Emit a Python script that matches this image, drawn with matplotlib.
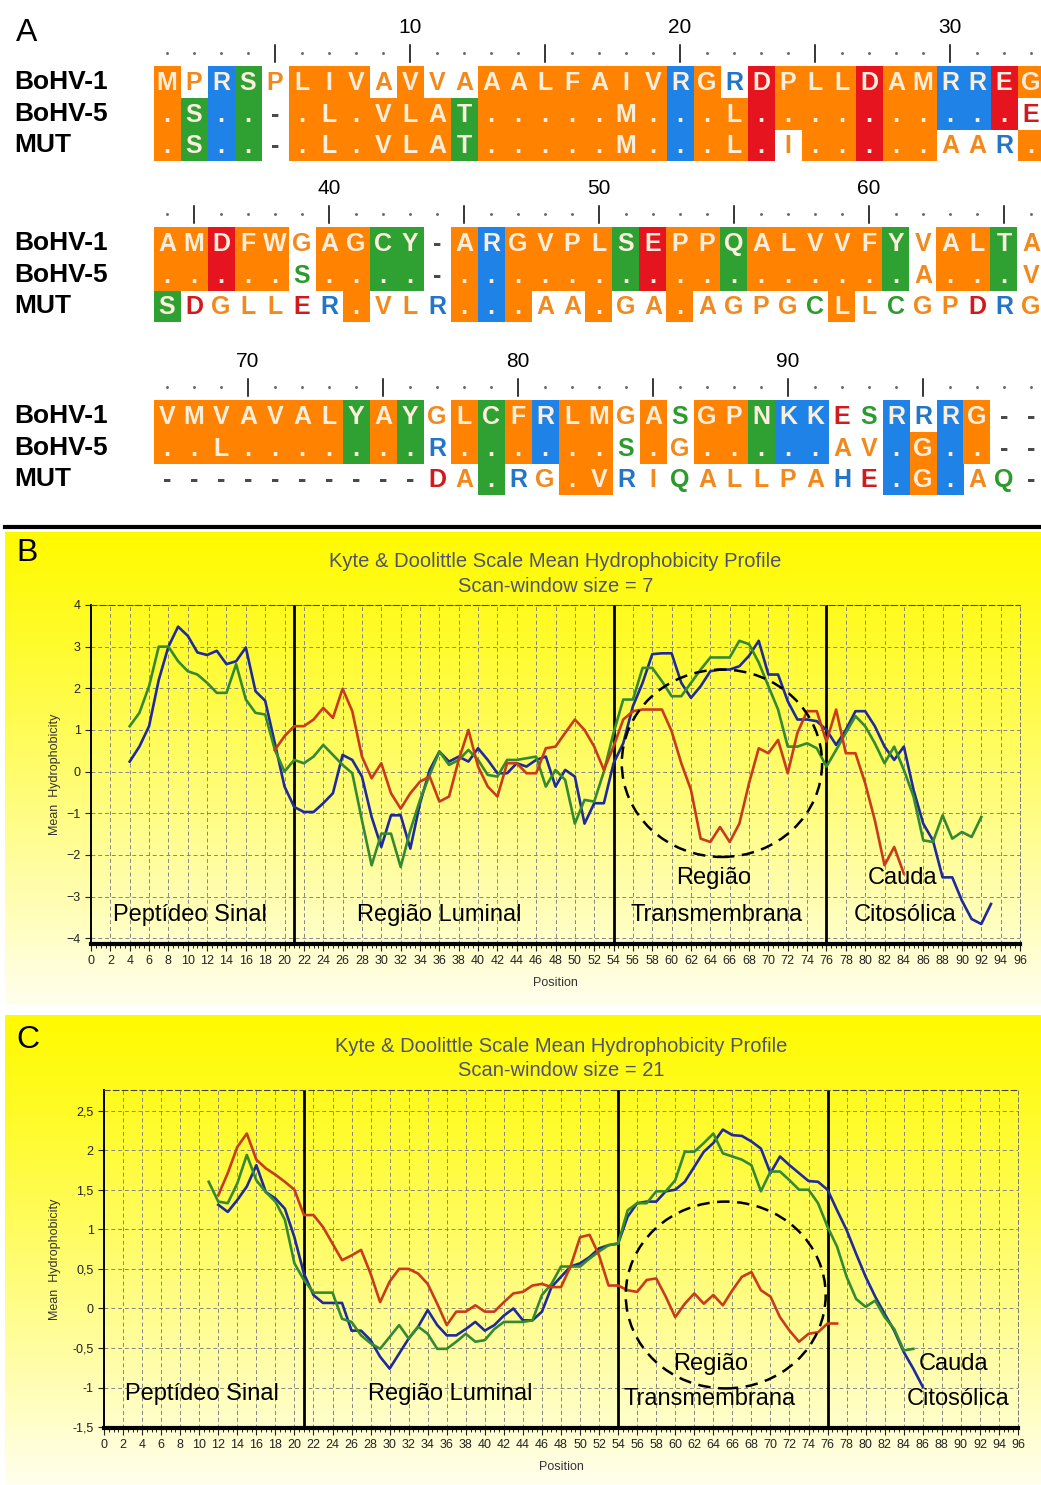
"""Alignment (A) and Kyte-Doolittle hydrophobicity profiles (B, C)."""

import matplotlib
matplotlib.use("Agg")
import matplotlib.pyplot as plt
from matplotlib.lines import Line2D
from matplotlib.patches import Ellipse, Rectangle
from matplotlib.ticker import MultipleLocator
import numpy as np

plt.rcParams["font.family"] = ["Liberation Sans", "DejaVu Sans"]

W, H = 1041, 1485

# ---- Panel A data: alignment, three blocks of 33 columns ----------------
ROW_NAMES = ["BoHV-1", "BoHV-5", "MUT"]
BLOCK_START = [1, 34, 67]

SEQ_BOHV1 = [
    "MPRSP" "LIVAV" "VAAAL" "FAIVR" "GRDPL" "LDAMR" "REG",
    "AMDFW" "GAGCY" "-ARGV" "PLSEP" "PQALV" "VFYVA" "LTA",
    "VMVAV" "ALYAY" "GLCFR" "LMGAS" "GPNKK" "ESRRR" "G--",
]
SEQ_BOHV5 = [
    ".S..-" ".L.VL" "AT..." "..M.." ".L..." "....." "..E",
    "....." "S...." "-...." "....." "....." "...A." "..V",
    "..L.." "....." "R...." "..S.G" "....." "AV.G." ".--",
]
SEQ_MUT = [
    ".S..-" ".L.VL" "AT..." "..M.." ".L.I." "....A" "AR.",
    "SDGLL" "ER.VL" "R...A" "A.GA." "AGPGC" "LLCGP" "DRG",
    "-----" "-----" "DA.RG" ".VRIQ" "ALLPA" "HE.G." "AQ-",
]
# cell shading: o=hydrophobic, g=polar, b=basic, r=acidic, w=none
BG_BOHV1 = [
    "owbgw" "ooowo" "wwooo" "oooob" "owroo" "oroob" "bro",
    "ooroo" "woogg" "woboo" "oogro" "ogooo" "oogwo" "ogw",
    "ooooo" "oogog" "wogob" "oowow" "oogbb" "wwbwb" "oww",
]
BG_BOHV5 = [
    "ogbgw" "ooooo" "ogooo" "oooob" "ooroo" "oroob" "brw",
    "ooroo" "woogg" "woboo" "oogro" "ogooo" "oogwo" "ogw",
    "ooooo" "oogog" "wogob" "oowow" "oogbb" "wwbob" "oww",
]
BG_MUT = [
    "ogbgw" "ooooo" "ogooo" "oooob" "oorwo" "oroow" "wwo",
    "gwwww" "wwoww" "wobow" "wowwo" "wwwww" "owwww" "www",
    "wwwww" "wwwww" "wwgww" "oowww" "wwwww" "wwbob" "www",
]

# ---- Panels B and C data: mean hydrophobicity per position --------------
B_BLUE_X = np.arange(4, 94)
B_BLUE = [0.24, 0.6, 1.09, 2.2, 3.0, 3.48, 3.26, 2.86, 2.8, 2.9,
          2.58, 2.65, 2.98, 1.93, 1.7, 0.68, -0.36, -0.85, -0.97, -0.97,
          -0.76, -0.52, 0.4, 0.28, -0.12, -1.09, -1.81, -1.05, -1.05, -1.85,
          -0.76, 0.04, 0.48, 0.24, 0.36, 0.24, 0.56, 0.28, -0.04, -0.04,
          0.2, 0.12, 0.28, 0.36, -0.36, 0.04, -0.12, -1.25, -0.76, -0.76,
          0.2, 0.68, 1.57, 2.13, 2.82, 2.84, 2.84, 2.13, 1.77, 2.05,
          2.41, 2.45, 2.45, 2.53, 2.78, 3.14, 2.33, 2.33, 1.69, 1.25,
          1.25, 1.21, 1.0, 0.64, 1.0, 1.45, 1.45, 1.09, 0.6, 0.28,
          0.6, -0.44, -1.25, -1.65, -2.54, -2.54, -3.1, -3.54, -3.66, -3.18]
B_GREEN_X = np.arange(4, 93)
B_GREEN = [1.09, 1.41, 2.05, 3.0, 3.0, 2.65, 2.41, 2.33, 2.13, 1.89,
           1.89, 2.58, 1.73, 1.41, 1.37, 0.52, 0.0, 0.28, 0.2, 0.36,
           0.64, 0.4, 0.16, -0.04, -1.17, -2.25, -1.49, -1.49, -2.29, -1.41,
           -0.68, -0.08, 0.48, 0.16, 0.28, 0.52, 0.28, -0.08, -0.12, 0.28,
           0.28, 0.32, 0.36, -0.36, 0.04, -0.2, -1.25, -0.68, -0.72, 0.0,
           0.93, 1.73, 1.73, 2.49, 2.49, 2.17, 1.81, 1.81, 2.13, 2.45,
           2.74, 2.74, 2.74, 3.14, 3.06, 2.62, 2.05, 1.49, 0.6, 0.6,
           0.68, 0.56, 0.12, 0.52, 0.93, 1.33, 1.09, 0.68, 0.2, 0.6,
           0.04, -0.6, -1.65, -1.69, -1.05, -1.61, -1.45, -1.57, -1.09]
B_RED_X = np.arange(19, 85)
B_RED = [0.52, 0.85, 1.09, 1.09, 1.25, 1.53, 1.29, 1.99, 1.45, 0.36,
         -0.16, 0.2, -0.52, -0.89, -0.52, -0.24, -0.12, -0.72, -0.6, 0.28,
         1.0, 0.12, -0.36, -0.6, 0.2, 0.2, -0.04, -0.04, 0.56, 0.6,
         0.93, 1.25, 1.0, 0.6, 0.04, 0.6, 1.25, 1.45, 1.49, 1.49,
         1.49, 0.97, 0.2, -0.44, -1.61, -1.69, -1.33, -1.69, -1.25, -0.28,
         0.56, 0.44, 0.76, -0.04, 0.93, 1.45, 1.45, 0.72, 1.49, 0.44,
         0.44, -0.28, -1.17, -2.25, -1.81, -2.45]

C_BLUE_X = np.arange(12, 87)
C_BLUE = [1.31, 1.22, 1.37, 1.54, 1.81, 1.47, 1.39, 1.26, 0.9, 0.44,
          0.17, 0.07, 0.07, 0.07, -0.28, -0.28, -0.4, -0.61, -0.76, -0.57,
          -0.38, -0.23, -0.02, -0.21, -0.34, -0.34, -0.26, -0.17, -0.28, -0.21,
          -0.09, 0.0, -0.15, -0.15, -0.04, 0.27, 0.4, 0.53, 0.57, 0.65,
          0.76, 0.8, 0.82, 1.16, 1.33, 1.35, 1.35, 1.48, 1.5, 1.6,
          1.79, 1.98, 2.09, 2.26, 2.19, 2.18, 2.11, 2.02, 1.71, 1.92,
          1.81, 1.71, 1.61, 1.6, 1.5, 1.24, 0.99, 0.69, 0.4, 0.15,
          -0.07, -0.28, -0.55, -0.76, -0.99]
C_GREEN_X = np.arange(11, 86)
C_GREEN = [1.6, 1.35, 1.33, 1.58, 1.94, 1.62, 1.47, 1.35, 1.12, 0.57,
           0.36, 0.2, 0.2, 0.2, -0.13, -0.17, -0.34, -0.44, -0.51, -0.36,
           -0.21, -0.38, -0.23, -0.32, -0.51, -0.51, -0.42, -0.32, -0.42, -0.4,
           -0.26, -0.17, -0.17, -0.17, -0.15, 0.17, 0.31, 0.53, 0.53, 0.53,
           0.63, 0.72, 0.8, 0.82, 1.24, 1.33, 1.33, 1.48, 1.48, 1.62,
           1.98, 1.98, 2.09, 2.21, 1.96, 1.92, 1.88, 1.81, 1.48, 1.73,
           1.73, 1.62, 1.5, 1.5, 1.33, 1.03, 0.78, 0.4, 0.12, 0.02,
           0.1, -0.11, -0.26, -0.53, -0.51]
C_RED_X = np.arange(12, 78)
C_RED = [1.43, 1.71, 2.04, 2.21, 1.88, 1.77, 1.69, 1.6, 1.5, 1.18,
         1.18, 1.03, 0.82, 0.61, 0.67, 0.74, 0.44, 0.08, 0.34, 0.5,
         0.5, 0.44, 0.31, 0.06, -0.21, -0.04, -0.04, 0.04, -0.04, -0.04,
         0.08, 0.19, 0.21, 0.29, 0.31, 0.27, 0.27, 0.53, 0.9, 0.93,
         0.67, 0.29, 0.29, 0.23, 0.21, 0.36, 0.38, 0.15, -0.11, 0.06,
         0.19, 0.06, 0.17, 0.04, 0.23, 0.4, 0.46, 0.23, 0.15, -0.11,
         -0.28, -0.42, -0.32, -0.3, -0.19, -0.19]

REGION_BOUNDS = [21, 54, 76]

# ---- colours ---------------------------------------------------------------
CELL_COLORS = {"o": "#ff8200", "g": "#2fa132", "b": "#1f82e6", "r": "#e6141e"}
TEXT_COLORS = {"o": "#f2891c", "g": "#2c9a2c", "b": "#2474c8", "r": "#d21a1e"}
ON_CELL = "#fbeedd"
GROUP = {}
for aa in "AVLIMFWPG":
    GROUP[aa] = "o"
for aa in "STYCNQ":
    GROUP[aa] = "g"
for aa in "RKH":
    GROUP[aa] = "b"
for aa in "DE":
    GROUP[aa] = "r"

LINE_BLUE = "#1f2a9c"
LINE_GREEN = "#348a30"
LINE_RED = "#c83c1c"

fig = plt.figure(figsize=(W / 100, H / 100), dpi=100)


def box(x0, y0, x1, y1):
    """Pixel box (top-left origin) -> figure rect."""
    return [x0 / W, 1 - y1 / H, (x1 - x0) / W, (y1 - y0) / H]


# ---- Panel A -------------------------------------------------------------
COL_W = 27.0
ROW_H = 31.7
FIRST_COL_PX = 167
ROW0_PX = [82, 243, 416]


def _draw_block(i):
    start = BLOCK_START[i]
    yc = ROW0_PX[i]
    ax = fig.add_axes(box(0, yc - 2.5 * ROW_H, W, yc + 2.5 * ROW_H))
    ax.set_xlim(start - FIRST_COL_PX / COL_W, start + (W - FIRST_COL_PX) / COL_W)
    ax.set_ylim(2.5, -2.5)
    ax.axis("off")

    cols = np.arange(start, start + 33)
    # ruler
    dot_cols = [c for c in cols if c % 5]
    ax.plot(dot_cols, [-0.9] * len(dot_cols), ".", ms=2.2, color="#6a6a6a")
    for c in cols:
        if c % 5 == 0:
            ax.plot([c, c], [-1.17, -0.62], color="black", lw=1.1)
        if c % 10 == 0:
            ax.text(c, -1.72, str(c), ha="center", va="center", fontsize=15)

    seqs = [SEQ_BOHV1[i], SEQ_BOHV5[i], SEQ_MUT[i]]
    bgs = [BG_BOHV1[i], BG_BOHV5[i], BG_MUT[i]]
    for r, (name, seq, bg) in enumerate(zip(ROW_NAMES, seqs, bgs)):
        ax.text(start - (FIRST_COL_PX - 14) / COL_W, r, name, ha="left",
                va="center", fontsize=19, fontweight="bold")
        for c, ch, code in zip(cols, seq, bg):
            if code != "w":
                ax.add_patch(Rectangle((c - 0.5, r - 0.5), 1, 1,
                                       fc=CELL_COLORS[code], ec="none", zorder=1))
                color = ON_CELL
            elif ch == "-":
                color = "#4a4a4a"
            else:
                color = TEXT_COLORS[GROUP.get(ch, "o")]
            ax.text(c, r + 0.03, ch, ha="center", va="center", fontsize=18,
                    fontweight="bold", color=color, zorder=2)


for i in range(3):
    _draw_block(i)

fig.text(16 / W, 1 - 33 / H, "A", fontsize=23, va="center", ha="left")
fig.add_artist(Line2D([5 / W, 1.0], [1 - 527 / H, 1 - 527 / H], color="black", lw=3))


# ---- Panels B and C ------------------------------------------------------
def _yellow_bg(rect):
    bg = fig.add_axes(box(*rect), zorder=0)
    t = np.linspace(0, 1, 256)[:, None]
    blue = 0.93 * t ** 1.15
    img = np.dstack([np.ones_like(t), np.ones_like(t) * (1 - 0.02 * (1 - t)), blue])
    bg.imshow(img, aspect="auto", extent=[0, 1, 0, 1], origin="upper")
    bg.axis("off")


def _profile(ax_px, bg_px, ylim, yticks, series, title2, ellipse, labels,
             letter, letter_y, comma=False):
    _yellow_bg(bg_px)
    ax = fig.add_axes(box(*ax_px), zorder=1)
    ax.set_facecolor("none")
    ax.set_xlim(0, 96)
    ax.set_ylim(*ylim)
    ax.set_xticks(np.arange(0, 97, 2))
    ax.xaxis.set_minor_locator(MultipleLocator(0.5))
    ax.set_yticks(yticks)
    if comma:
        ax.set_yticklabels([f"{v:g}".replace(".", ",") for v in yticks])
    ax.tick_params(axis="x", which="major", labelsize=9, length=5, width=0.8,
                   colors="#222222", pad=3)
    ax.tick_params(axis="x", which="minor", length=3, width=0.6)
    ax.tick_params(axis="y", labelsize=9, length=4, width=0.8, colors="#222222")
    ax.grid(True, which="major", linestyle=(0, (4, 3)), color="#858585", lw=0.7)
    ax.spines["bottom"].set_linewidth(3)
    ax.spines["left"].set_linewidth(1.4)
    ax.spines["top"].set_linestyle((0, (5, 3)))
    ax.spines["top"].set_color("#444444")
    ax.spines["right"].set_linestyle((0, (4, 3)))
    ax.spines["right"].set_color("#777777")
    ax.spines["right"].set_linewidth(0.7)

    for xb in REGION_BOUNDS:
        ax.axvline(xb, color="black", lw=2, zorder=2)
    for xs, ys, color in series:
        ax.plot(xs, ys, color=color, lw=1.9, zorder=3)

    (ex, ey, ew, eh) = ellipse
    ax.add_patch(Ellipse((ex, ey), ew, eh, fill=False, ec="black", lw=1.8,
                         ls=(0, (5, 3)), zorder=4))
    for (tx, ty, txt) in labels:
        ax.text(tx, ty, txt, ha="center", va="center", fontsize=17, zorder=5)

    cx = (ax_px[0] + ax_px[2]) / 2
    fig.text(cx / W, 1 - (ax_px[1] - 43) / H,
             "Kyte & Doolittle Scale Mean Hydrophobicity Profile",
             ha="center", va="center", fontsize=14.5, color="#4d5370")
    fig.text(cx / W, 1 - (ax_px[1] - 19) / H, title2,
             ha="center", va="center", fontsize=14.5, color="#4d5370")
    fig.text(55 / W, 1 - (ax_px[1] + ax_px[3]) / 2 / H, "Mean  Hydrophobicity",
             rotation=90, ha="center", va="center", fontsize=9, color="#333333")
    fig.text(cx / W, 1 - (ax_px[3] + 39) / H, "Position", ha="center",
             va="center", fontsize=9, color="#333333")
    fig.text(16 / W, 1 - letter_y / H, letter, fontsize=23, va="center", ha="left")
    return ax


_profile(
    ax_px=(91, 605, 1020, 944), bg_px=(5, 532, 1041, 1005),
    ylim=(-4.14, 4), yticks=list(range(-4, 5)),
    series=[(B_BLUE_X, B_BLUE, LINE_BLUE), (B_GREEN_X, B_GREEN, LINE_GREEN),
            (B_RED_X, B_RED, LINE_RED)],
    title2="Scan-window size = 7",
    ellipse=(65.2, 0.2, 20.7, 4.5),
    labels=[(10.2, -3.44, "Peptídeo Sinal"), (36.0, -3.44, "Região Luminal"),
            (64.3, -2.56, "Região"), (64.6, -3.44, "Transmembrana"),
            (83.9, -2.56, "Cauda"), (84.1, -3.44, "Citosólica")],
    letter="B", letter_y=553,
)

_profile(
    ax_px=(104, 1090, 1018, 1428), bg_px=(5, 1015, 1041, 1485),
    ylim=(-1.51, 2.76), yticks=[-1.5, -1, -0.5, 0, 0.5, 1, 1.5, 2, 2.5],
    series=[(C_BLUE_X, C_BLUE, LINE_BLUE), (C_GREEN_X, C_GREEN, LINE_GREEN),
            (C_RED_X, C_RED, LINE_RED)],
    title2="Scan-window size = 21",
    ellipse=(65.3, 0.17, 21.0, 2.36),
    labels=[(10.3, -1.08, "Peptídeo Sinal"), (36.4, -1.08, "Região Luminal"),
            (63.7, -0.70, "Região"), (63.6, -1.14, "Transmembrana"),
            (89.2, -0.70, "Cauda"), (89.7, -1.14, "Citosólica")],
    letter="C", letter_y=1040, comma=True,
)

fig.savefig("out.png", dpi=100)
plt.close(fig)
